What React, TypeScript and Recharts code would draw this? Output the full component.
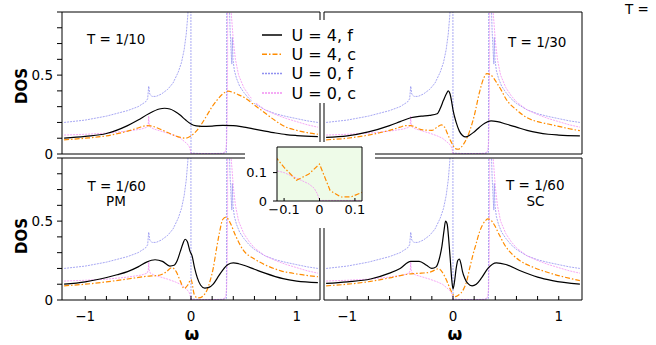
import React from 'react';
import { LineChart, Line, XAxis, YAxis } from 'recharts';

const FONT = '"DejaVu Sans", Verdana, sans-serif';

// axis ticks
const W_TICKS = [-1, -0.8, -0.6, -0.4, -0.2, 0, 0.2, 0.4, 0.6, 0.8, 1];
const W_LABELS = [-1, 0, 1];
const DOS_TICKS = [0, 0.1, 0.2, 0.3, 0.4, 0.5, 0.6, 0.7, 0.8, 0.9];
const DOS_LABELS = [0, 0.5];
const INSET_W_TICKS = [-0.1, 0, 0.1];
const INSET_DOS_TICKS = [0, 0.1];

// U = 0, f  (same in every panel)
const U0F_W = [-1.2, -1.0, -0.8, -0.6, -0.5, -0.43, -0.41, -0.4, -0.39, -0.37, -0.33, -0.28, -0.22, -0.17, -0.12, -0.09, -0.065, -0.045, -0.03, -0.018, -0.008, -0.002, 0, 0.05, 0.1, 0.2, 0.3, 0.335, 0.342, 0.35, 0.36, 0.37, 0.38, 0.386, 0.391, 0.397, 0.41, 0.43, 0.46, 0.5, 0.55, 0.6, 0.7, 0.8, 0.9, 1.0, 1.1, 1.2];
const U0F_DOS = [0.2, 0.215, 0.24, 0.275, 0.3, 0.33, 0.35, 0.43, 0.38, 0.365, 0.365, 0.38, 0.41, 0.45, 0.52, 0.58, 0.66, 0.76, 0.88, 1.05, 1.4, 2.2, 0.006, 0.004, 0.003, 0.003, 0.004, 0.01, 2.2, 1.4, 1.0, 0.78, 0.64, 0.57, 0.74, 0.6, 0.53, 0.48, 0.43, 0.39, 0.35, 0.32, 0.28, 0.255, 0.238, 0.224, 0.21, 0.2];

// U = 0, c
const U0C_W = [-1.2, -1.0, -0.8, -0.6, -0.47, -0.415, -0.404, -0.4, -0.396, -0.385, -0.35, -0.3, -0.22, -0.15, -0.1, -0.06, -0.03, -0.015, -0.006, 0, 0.1, 0.2, 0.3, 0.32, 0.33, 0.337, 0.342, 0.346, 0.35, 0.36, 0.38, 0.4, 0.42, 0.45, 0.5, 0.55, 0.6, 0.7, 0.8, 0.9, 1.0, 1.1, 1.2];
const U0C_DOS = [0.12, 0.125, 0.132, 0.145, 0.158, 0.17, 0.19, 0.24, 0.19, 0.17, 0.158, 0.148, 0.132, 0.115, 0.1, 0.078, 0.06, 0.045, 0.025, 0.002, 0.002, 0.002, 0.004, 0.01, 0.03, 0.07, 0.2, 0.6, 2.2, 1.3, 0.9, 0.72, 0.6, 0.5, 0.42, 0.37, 0.33, 0.28, 0.25, 0.225, 0.205, 0.185, 0.17];

// T = 1/10
const F10_W = [-1.2, -1.0, -0.8, -0.6, -0.5, -0.4, -0.3, -0.25, -0.2, -0.1, -0.05, 0, 0.05, 0.1, 0.2, 0.3, 0.4, 0.5, 0.6, 0.7, 0.8, 0.9, 1.0, 1.2];
const F10_DOS = [0.1, 0.112, 0.13, 0.18, 0.215, 0.255, 0.285, 0.29, 0.285, 0.245, 0.215, 0.19, 0.178, 0.175, 0.177, 0.182, 0.18, 0.17, 0.158, 0.145, 0.133, 0.123, 0.117, 0.11];
const C10_W = [-1.2, -1.0, -0.8, -0.6, -0.5, -0.42, -0.38, -0.3, -0.2, -0.1, -0.05, 0, 0.05, 0.1, 0.15, 0.2, 0.25, 0.3, 0.35, 0.4, 0.45, 0.5, 0.6, 0.7, 0.8, 0.9, 1.0, 1.1, 1.2];
const C10_DOS = [0.09, 0.1, 0.115, 0.145, 0.165, 0.18, 0.178, 0.16, 0.13, 0.105, 0.1, 0.115, 0.145, 0.19, 0.245, 0.3, 0.345, 0.38, 0.398, 0.39, 0.375, 0.36, 0.31, 0.26, 0.21, 0.17, 0.15, 0.135, 0.125];

// T = 1/30
const F30_W = [-1.2, -1.0, -0.8, -0.6, -0.5, -0.4, -0.3, -0.22, -0.15, -0.12, -0.09, -0.06, -0.045, -0.03, -0.015, 0, 0.03, 0.06, 0.09, 0.12, 0.16, 0.2, 0.25, 0.3, 0.36, 0.42, 0.5, 0.6, 0.7, 0.8, 0.9, 1.0, 1.2];
const F30_DOS = [0.105, 0.115, 0.14, 0.18, 0.205, 0.23, 0.24, 0.245, 0.255, 0.29, 0.34, 0.385, 0.4, 0.385, 0.34, 0.28, 0.2, 0.145, 0.117, 0.108, 0.12, 0.14, 0.17, 0.195, 0.21, 0.205, 0.19, 0.17, 0.15, 0.135, 0.125, 0.12, 0.115];
const C30_W = [-1.2, -1.0, -0.8, -0.6, -0.5, -0.45, -0.4, -0.3, -0.2, -0.15, -0.11, -0.08, -0.05, -0.02, 0, 0.02, 0.05, 0.08, 0.12, 0.16, 0.2, 0.25, 0.29, 0.32, 0.36, 0.41, 0.46, 0.5, 0.6, 0.7, 0.8, 0.9, 1.0, 1.1, 1.2];
const C30_DOS = [0.09, 0.1, 0.12, 0.15, 0.17, 0.18, 0.18, 0.155, 0.15, 0.17, 0.185, 0.17, 0.125, 0.08, 0.055, 0.035, 0.03, 0.045, 0.085, 0.15, 0.24, 0.39, 0.48, 0.51, 0.5, 0.455, 0.4, 0.35, 0.28, 0.23, 0.205, 0.19, 0.175, 0.16, 0.148];

// T = 1/60, PM
const F60_W = [-1.2, -1.0, -0.86, -0.7, -0.6, -0.5, -0.42, -0.34, -0.27, -0.2, -0.16, -0.13, -0.1, -0.075, -0.055, -0.035, -0.01, 0.01, 0.035, 0.06, 0.09, 0.13, 0.17, 0.21, 0.25, 0.3, 0.35, 0.4, 0.45, 0.5, 0.6, 0.7, 0.87, 1.0, 1.2];
const F60_DOS = [0.1, 0.115, 0.133, 0.16, 0.18, 0.21, 0.24, 0.255, 0.245, 0.215, 0.22, 0.25, 0.31, 0.36, 0.385, 0.37, 0.31, 0.28, 0.2, 0.14, 0.095, 0.075, 0.08, 0.1, 0.14, 0.19, 0.225, 0.235, 0.23, 0.22, 0.195, 0.17, 0.135, 0.12, 0.11];
const C60_W = [-1.2, -1.0, -0.8, -0.6, -0.42, -0.3, -0.24, -0.18, -0.14, -0.1, -0.065, -0.03, 0, 0.03, 0.06, 0.09, 0.12, 0.15, 0.18, 0.21, 0.24, 0.27, 0.3, 0.33, 0.37, 0.42, 0.49, 0.6, 0.71, 0.85, 1.0, 1.2];
const C60_DOS = [0.09, 0.1, 0.115, 0.133, 0.15, 0.157, 0.175, 0.205, 0.18, 0.118, 0.073, 0.095, 0.13, 0.037, 0.014, 0.015, 0.03, 0.06, 0.12, 0.2, 0.32, 0.43, 0.51, 0.525, 0.49, 0.41, 0.32, 0.26, 0.22, 0.185, 0.165, 0.148];

// T = 1/60, SC
const FSC_W = [-1.2, -1.0, -0.78, -0.6, -0.5, -0.4, -0.32, -0.25, -0.2, -0.16, -0.13, -0.105, -0.085, -0.07, -0.055, -0.04, -0.025, -0.012, 0, 0.015, 0.03, 0.045, 0.06, 0.075, 0.09, 0.11, 0.14, 0.18, 0.22, 0.27, 0.33, 0.41, 0.5, 0.63, 0.8, 0.94, 1.2];
const FSC_DOS = [0.105, 0.115, 0.133, 0.17, 0.2, 0.245, 0.245, 0.22, 0.2, 0.21, 0.26, 0.34, 0.44, 0.5, 0.48, 0.38, 0.25, 0.13, 0.07, 0.12, 0.2, 0.25, 0.26, 0.23, 0.18, 0.14, 0.105, 0.09, 0.1, 0.14, 0.2, 0.235, 0.225, 0.187, 0.145, 0.123, 0.1];
const CSC_W = [-1.2, -1.0, -0.78, -0.6, -0.4, -0.3, -0.22, -0.17, -0.14, -0.1, -0.06, -0.03, -0.01, 0.02, 0.05, 0.1, 0.13, 0.16, 0.19, 0.22, 0.25, 0.28, 0.31, 0.33, 0.36, 0.39, 0.44, 0.5, 0.56, 0.63, 0.75, 0.94, 1.2];
const CSC_DOS = [0.09, 0.1, 0.118, 0.14, 0.166, 0.17, 0.176, 0.19, 0.198, 0.175, 0.123, 0.075, 0.047, 0.021, 0.03, 0.069, 0.12, 0.208, 0.29, 0.36, 0.43, 0.477, 0.505, 0.514, 0.505, 0.477, 0.41, 0.337, 0.29, 0.25, 0.21, 0.166, 0.123];

const zip = (w: number[], d: number[]) => w.map((x, i) => ({ w: x, d: d[i] }));

const U0F = zip(U0F_W, U0F_DOS);
const U0C = zip(U0C_W, U0C_DOS);

const STYLE = {
    f4: { stroke: '#000000', strokeWidth: 1.2 },
    c4: { stroke: '#ff8c00', strokeWidth: 1.2, strokeDasharray: '5 2 1.5 2' },
    f0: { stroke: '#9090f0', strokeWidth: 0.8, strokeDasharray: '2 1' },
    c0: { stroke: '#f290f2', strokeWidth: 0.8, strokeDasharray: '2 1' },
};

const tickFont = { fill: '#000', fontSize: 13.5, fontFamily: FONT };
const has = (list: number[], v: number) => list.some((l) => Math.abs(l - v) < 1e-6);
const fmt = (v: number) => (v < 0 ? '\u2212' + Math.abs(v) : String(v));
const axisLine = { stroke: '#000', strokeWidth: 1 };
const tickLine = { stroke: '#000', strokeWidth: 1 };

interface PanelProps {
    f: { w: number; d: number }[];
    c: { w: number; d: number }[];
    col: 0 | 1;
    row: 0 | 1;
}

// every panel is a full-size chart whose plot area is placed with margins
// (axes are 1px thick: recharts skips axes of zero size)
const Panel = ({ f, c, col, row }: PanelProps) => {
    const margin = {
        left: col === 0 ? 61 : 323,
        right: col === 0 ? 335 : 73,
        top: row === 0 ? 11 : 157,
        bottom: row === 0 ? 190 : 44,
    };
    return (
        <div style={{ position: 'absolute', left: 0, top: 0 }}>
            <LineChart width={656} height={345} margin={margin}>
                <XAxis
                    xAxisId="b"
                    dataKey="w"
                    type="number"
                    domain={[-1.22, 1.22]}
                    allowDataOverflow
                    ticks={W_TICKS}
                    interval={0}
                    height={1}
                    axisLine={axisLine}
                    tickLine={tickLine}
                    tickSize={-4}
                    tickMargin={15}
                    tick={row === 1 ? tickFont : false}
                    tickFormatter={(v: number) => (has(W_LABELS, v) ? fmt(v) : '')}
                />
                <XAxis
                    xAxisId="t"
                    orientation="top"
                    type="number"
                    domain={[-1.22, 1.22]}
                    allowDataOverflow
                    ticks={W_TICKS}
                    interval={0}
                    height={1}
                    axisLine={axisLine}
                    tickLine={tickLine}
                    tickSize={-4}
                    tick={false}
                />
                <YAxis
                    yAxisId="l"
                    type="number"
                    domain={[0, 0.9]}
                    allowDataOverflow
                    ticks={DOS_TICKS}
                    interval={0}
                    width={1}
                    axisLine={axisLine}
                    tickLine={tickLine}
                    tickSize={col === 0 ? 5 : -4}
                    tickMargin={4}
                    tick={col === 0 ? tickFont : false}
                    tickFormatter={(v: number) => (has(DOS_LABELS, v) ? String(v) : '')}
                />
                <YAxis
                    yAxisId="r"
                    orientation="right"
                    type="number"
                    domain={[0, 0.9]}
                    allowDataOverflow
                    ticks={DOS_TICKS}
                    interval={0}
                    width={1}
                    axisLine={axisLine}
                    tickLine={tickLine}
                    tickSize={-4}
                    tick={false}
                />
                <Line xAxisId="b" yAxisId="l" data={U0F} dataKey="d" type="linear" dot={false} isAnimationActive={false} {...STYLE.f0} />
                <Line xAxisId="b" yAxisId="l" data={U0C} dataKey="d" type="linear" dot={false} isAnimationActive={false} {...STYLE.c0} />
                <Line xAxisId="b" yAxisId="l" data={c} dataKey="d" type="monotone" dot={false} isAnimationActive={false} {...STYLE.c4} />
                <Line xAxisId="b" yAxisId="l" data={f} dataKey="d" type="monotone" dot={false} isAnimationActive={false} {...STYLE.f4} />
            </LineChart>
        </div>
    );
};

const Inset = () => {
    const insetFont = { ...tickFont, fontSize: 13 };
    return (
        <>
            <div style={{ position: 'absolute', left: 245, top: 142, width: 130, height: 86, background: '#fff' }} />
            <div style={{ position: 'absolute', left: 277, top: 147, width: 85, height: 54, background: '#eefbe8' }} />
            <div style={{ position: 'absolute', left: 0, top: 0 }}>
                <LineChart width={656} height={345} margin={{ left: 276, right: 293, top: 146, bottom: 143 }}>
                    <XAxis
                        xAxisId="b"
                        dataKey="w"
                        type="number"
                        domain={[-0.12, 0.12]}
                        allowDataOverflow
                        ticks={INSET_W_TICKS}
                        interval={0}
                        height={1}
                        axisLine={axisLine}
                        tickLine={tickLine}
                        tickSize={-3}
                        tickMargin={7}
                        tick={insetFont}
                        tickFormatter={fmt}
                    />
                    <XAxis
                        xAxisId="t"
                        orientation="top"
                        type="number"
                        domain={[-0.12, 0.12]}
                        allowDataOverflow
                        ticks={INSET_W_TICKS}
                        interval={0}
                        height={1}
                        axisLine={axisLine}
                        tickLine={tickLine}
                        tickSize={-3}
                        tick={false}
                    />
                    <YAxis
                        yAxisId="l"
                        type="number"
                        domain={[0, 0.19]}
                        allowDataOverflow
                        ticks={INSET_DOS_TICKS}
                        interval={0}
                        width={1}
                        axisLine={axisLine}
                        tickLine={tickLine}
                        tickSize={4}
                        tickMargin={6}
                        tick={insetFont}
                    />
                    <YAxis
                        yAxisId="r"
                        orientation="right"
                        type="number"
                        domain={[0, 0.19]}
                        allowDataOverflow
                        ticks={INSET_DOS_TICKS}
                        interval={0}
                        width={1}
                        axisLine={axisLine}
                        tickLine={tickLine}
                        tickSize={-4}
                        tick={false}
                    />
                    <Line xAxisId="b" yAxisId="l" data={U0C} dataKey="d" type="linear" dot={false} isAnimationActive={false} {...STYLE.c0} />
                    <Line xAxisId="b" yAxisId="l" data={zip(C60_W, C60_DOS)} dataKey="d" type="linear" dot={false} isAnimationActive={false} {...STYLE.c4} />
                </LineChart>
            </div>
        </>
    );
};

const LEGEND = [
    { label: 'U = 4, f', style: STYLE.f4 },
    { label: 'U = 4, c', style: STYLE.c4 },
    { label: 'U = 0, f', style: STYLE.f0 },
    { label: 'U = 0, c', style: STYLE.c0 },
];

const Overlay = () => (
    <svg width={656} height={345} style={{ position: 'absolute', left: 0, top: 0, pointerEvents: 'none' }} fontFamily={FONT}>
        <rect x={252} y={20} width={100} height={83} fill="#fff" />
        {LEGEND.map((item, i) => (
            <g key={item.label}>
                <line x1={262} x2={282} y1={35 + i * 19.3} y2={35 + i * 19.3} {...item.style} strokeWidth={1.5} />
                <text x={291.5} y={40.7 + i * 19.3} fontSize={16}>
                    {item.label}
                </text>
            </g>
        ))}
        <text x={87} y={44} fontSize={13.5}>T = 1/10</text>
        <text x={508} y={46.5} fontSize={13.5}>T = 1/30</text>
        <text x={116.7} y={190.5} fontSize={13.5} textAnchor="middle">T = 1/60</text>
        <text x={116} y={206} fontSize={13.5} textAnchor="middle">PM</text>
        <text x={535.3} y={190} fontSize={13.5} textAnchor="middle">T = 1/60</text>
        <text x={535.5} y={206} fontSize={13.5} textAnchor="middle">SC</text>
        <text x={625} y={14} fontSize={13.5}>T =</text>
        <text x={27} y={86} fontSize={15} fontWeight="bold" textAnchor="middle" transform="rotate(-90 27 86)">DOS</text>
        <text x={27} y={236} fontSize={15} fontWeight="bold" textAnchor="middle" transform="rotate(-90 27 236)">DOS</text>
        <text x={192} y={340} fontSize={17} fontWeight="bold" textAnchor="middle">ω</text>
        <text x={455} y={340} fontSize={17} fontWeight="bold" textAnchor="middle">ω</text>
    </svg>
);

export default function App() {
    return (
        <div style={{ position: 'absolute', left: 0, top: 0, width: 656, height: 345, background: '#fff', overflow: 'hidden' }}>
            <Panel f={zip(F10_W, F10_DOS)} c={zip(C10_W, C10_DOS)} col={0} row={0} />
            <Panel f={zip(F30_W, F30_DOS)} c={zip(C30_W, C30_DOS)} col={1} row={0} />
            <Panel f={zip(F60_W, F60_DOS)} c={zip(C60_W, C60_DOS)} col={0} row={1} />
            <Panel f={zip(FSC_W, FSC_DOS)} c={zip(CSC_W, CSC_DOS)} col={1} row={1} />
            <Inset />
            <Overlay />
        </div>
    );
}
